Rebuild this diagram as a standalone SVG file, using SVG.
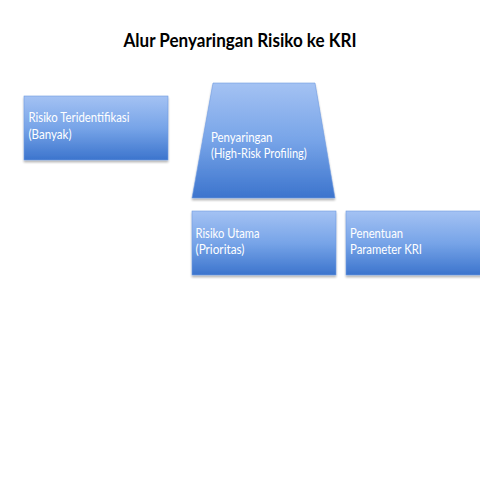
<svg xmlns="http://www.w3.org/2000/svg" width="480" height="480" viewBox="0 0 480 480">
<defs>
<linearGradient id="g" x1="0" y1="0" x2="0" y2="1">
<stop offset="0" stop-color="#a4c2f3"/>
<stop offset="0.5" stop-color="#77a4e8"/>
<stop offset="1" stop-color="#3c74cd"/>
</linearGradient>
<filter id="sh" x="-10%" y="-10%" width="120%" height="130%">
<feGaussianBlur in="SourceAlpha" stdDeviation="1.2"/>
<feOffset dx="0" dy="2" result="b"/>
<feComponentTransfer><feFuncA type="linear" slope="0.3"/></feComponentTransfer>
<feMerge><feMergeNode/><feMergeNode in="SourceGraphic"/></feMerge>
</filter>
</defs>
<style>
.shape{fill:url(#g);stroke:#6f9be0;stroke-width:0.6;filter:url(#sh)}
.lbl{font-family:Lato,"Open Sans","Liberation Sans",sans-serif;font-size:12.5px;fill:#ffffff}
.title{font-family:Lato,"Open Sans","Liberation Sans",sans-serif;font-size:19px;font-weight:bold;fill:#000000}
</style>
<rect width="480" height="480" fill="#ffffff"/>
<text class="title" x="240" y="47" text-anchor="middle" textLength="233" lengthAdjust="spacingAndGlyphs">Alur Penyaringan Risiko ke KRI</text>
<g id="connectors"></g>
<g id="node-identified">
<rect class="shape" x="24" y="96" width="144" height="64"/>
<text class="lbl" x="28.5" y="122" textLength="101" lengthAdjust="spacingAndGlyphs">Risiko Teridentifikasi</text>
<text class="lbl" x="28.5" y="138.5" textLength="43" lengthAdjust="spacingAndGlyphs">(Banyak)</text>
</g>
<g id="node-filter">
<polygon class="shape" points="213,83 315,83 335,198 192,198"/>
<text class="lbl" x="211" y="141.5" textLength="61.5" lengthAdjust="spacingAndGlyphs">Penyaringan</text>
<text class="lbl" x="211" y="158" textLength="95.8" lengthAdjust="spacingAndGlyphs">(High-Risk Profiling)</text>
</g>
<g id="node-main">
<rect class="shape" x="192" y="211" width="144" height="64"/>
<text class="lbl" x="195.5" y="237.5" textLength="64" lengthAdjust="spacingAndGlyphs">Risiko Utama</text>
<text class="lbl" x="195.5" y="254" textLength="49" lengthAdjust="spacingAndGlyphs">(Prioritas)</text>
</g>
<g id="node-param">
<rect class="shape" x="346" y="211" width="144" height="64"/>
<text class="lbl" x="350" y="237.5" textLength="53" lengthAdjust="spacingAndGlyphs">Penentuan</text>
<text class="lbl" x="350" y="254" textLength="72" lengthAdjust="spacingAndGlyphs">Parameter KRI</text>
</g>
</svg>
